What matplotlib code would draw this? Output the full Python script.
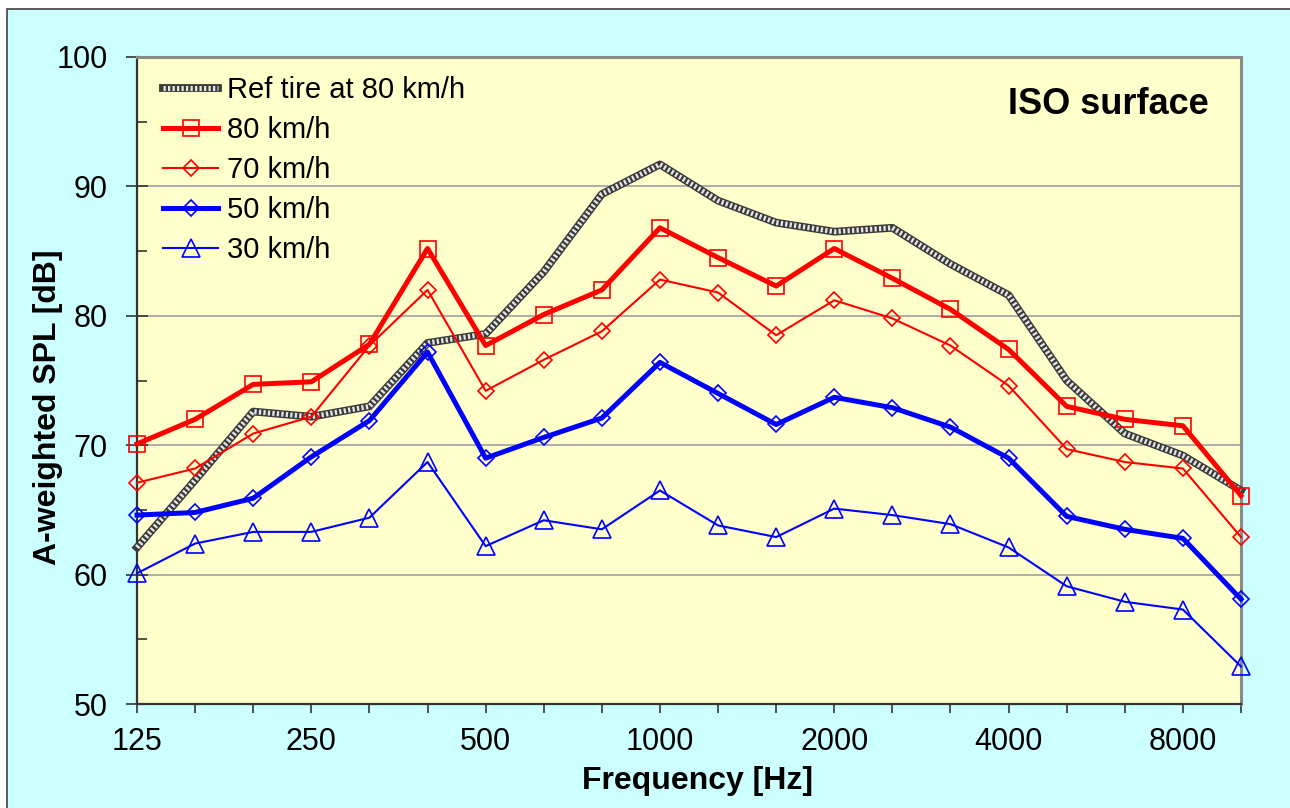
""" A-weighted SPL per 1/3 octave band, ISO surface """

import matplotlib
matplotlib.use("Agg")
import matplotlib.pyplot as plt
from matplotlib.patches import Rectangle
from matplotlib.ticker import MultipleLocator

plt.rcParams['font.family'] = ['Liberation Sans', 'DejaVu Sans']

# bandas de 1/3 de oitava
bandas = [125, 160, 200, 250, 315, 400, 500, 630, 800, 1000, 1250, 1600,
          2000, 2500, 3150, 4000, 5000, 6300, 8000, 10000]
rotulos_x = ['125', '', '', '250', '', '', '500', '', '', '1000', '', '',
             '2000', '', '', '4000', '', '', '8000', '']

ref_80 = [62.1, 67.3, 72.6, 72.2, 73.0, 77.9, 78.6, 83.4, 89.4, 91.7, 88.9,
          87.2, 86.5, 86.8, 84.0, 81.6, 75.0, 70.9, 69.2, 66.5]
v80 = [70.1, 72.0, 74.7, 74.9, 77.8, 85.2, 77.7, 80.1, 82.0, 86.8, 84.5,
       82.3, 85.2, 82.9, 80.5, 77.4, 73.0, 72.0, 71.5, 66.1]
v70 = [67.1, 68.2, 70.9, 72.2, 77.7, 82.0, 74.2, 76.6, 78.8, 82.8, 81.8,
       78.5, 81.2, 79.8, 77.7, 74.6, 69.7, 68.7, 68.2, 62.9]
v50 = [64.6, 64.8, 65.9, 69.1, 71.9, 77.2, 69.0, 70.6, 72.1, 76.4, 74.0,
       71.6, 73.7, 72.9, 71.4, 69.0, 64.5, 63.5, 62.8, 58.1]
v30 = [60.1, 62.4, 63.3, 63.3, 64.4, 68.7, 62.2, 64.2, 63.5, 66.5, 63.8,
       62.9, 65.1, 64.6, 63.9, 62.1, 59.1, 57.9, 57.3, 52.9]

x = list(range(len(bandas)))

fig = plt.figure(figsize=(12.9, 8.08), dpi=100)
fig.patch.set_facecolor('white')
fig.add_artist(Rectangle((7 / 1290, -0.05), 1.05, 1 - 9 / 808 + 0.05,
                         transform=fig.transFigure, facecolor='#CCFFFF',
                         edgecolor='#404040', lw=1.2, zorder=-10))

ax = fig.add_axes([137 / 1290, 1 - 704 / 808, 1104 / 1290, 647 / 808])
ax.set_facecolor('#FFFFCC')

# pneu de referencia: linha "xadrez"
base, = ax.plot(x, ref_80, color='#3a3a3a', lw=5.6, solid_joinstyle='round',
                clip_on=False, zorder=3)
trama, = ax.plot(x, ref_80, color='#e6e6e6', lw=3.6, ls=(0, (0.45, 0.45)),
                 clip_on=False, zorder=3)

l80, = ax.plot(x, v80, color='#FF0000', lw=3.6, marker='s', ms=12,
               mfc='none', mec='#FF0000', mew=1.2, clip_on=False, zorder=4)
l70, = ax.plot(x, v70, color='#FF0000', lw=1.5, marker='D', ms=8.6,
               mfc='none', mec='#FF0000', mew=1.2, clip_on=False, zorder=4)
l50, = ax.plot(x, v50, color='#0000FF', lw=3.6, marker='D', ms=8.6,
               mfc='none', mec='#0000FF', mew=1.2, clip_on=False, zorder=4)
l30, = ax.plot(x, v30, color='#0000FF', lw=1.5, marker='^', ms=12.5,
               mfc='none', mec='#0000FF', mew=1.2, clip_on=False, zorder=4)

ax.set_xlim(0, len(bandas) - 1)
ax.set_ylim(50, 100)
ax.set_xticks(x)
ax.set_xticklabels(rotulos_x)
ax.yaxis.set_major_locator(MultipleLocator(10))
ax.yaxis.set_minor_locator(MultipleLocator(5))
ax.grid(axis='y', which='major', color='#a0a0a0', lw=1.2)
ax.set_axisbelow(True)

ax.tick_params(axis='y', which='major', direction='inout', length=16,
               width=1.2, color='#333333', labelsize=22, pad=13)
ax.tick_params(axis='y', which='minor', direction='in', length=7,
               width=1.2, color='#333333')
ax.tick_params(axis='x', which='major', direction='out', length=6.5,
               width=1.2, color='#333333', labelsize=22, pad=10)

for lado in ['left', 'bottom']:
    ax.spines[lado].set_color('#333333')
    ax.spines[lado].set_linewidth(1.6)
for lado in ['top', 'right']:
    ax.spines[lado].set_color('#8a8a8a')
    ax.spines[lado].set_linewidth(2.2)

fig.text(697 / 1290, 1 - 781 / 808, 'Frequency [Hz]', fontsize=23,
         fontweight='bold', ha='center', va='center')
fig.text(48 / 1290, 1 - 407 / 808, 'A-weighted SPL [dB]', fontsize=23,
         fontweight='bold', ha='center', va='center', rotation=90)
ax.text(0.971, 0.927, 'ISO surface', transform=ax.transAxes, fontsize=26,
        fontweight='bold', ha='right', va='center')

ax.legend([(base, trama), l80, l70, l50, l30],
          ['Ref tire at 80 km/h', '80 km/h', '70 km/h', '50 km/h', '30 km/h'],
          loc='upper left', bbox_to_anchor=((163 - 137) / 1104, (704 - 76) / 647),
          frameon=False, fontsize=21, handlelength=1.9, handletextpad=0.28,
          labelspacing=0.41, borderpad=0, borderaxespad=0)

fig.savefig('out.png', dpi=100, facecolor=fig.get_facecolor())
